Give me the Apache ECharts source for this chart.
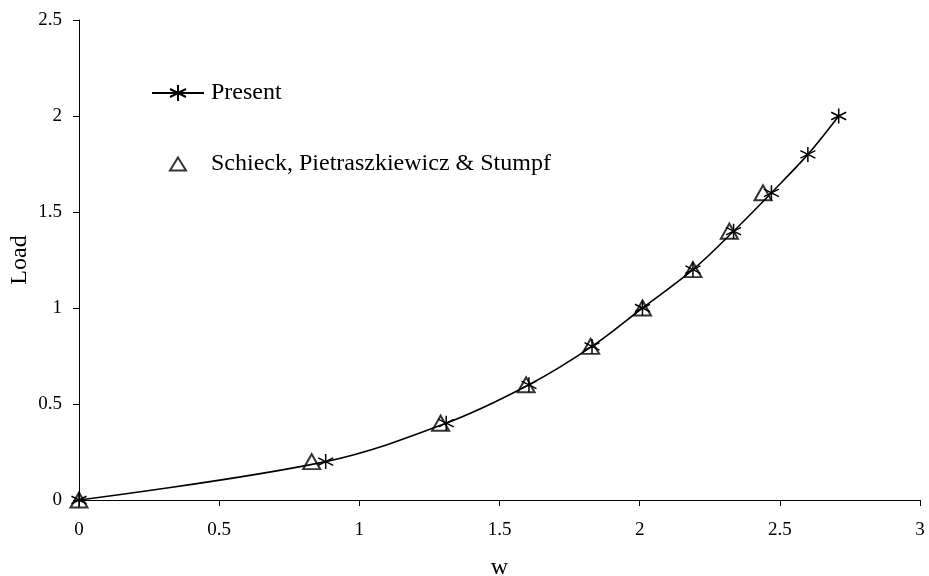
<!DOCTYPE html>
<html><head><meta charset="utf-8">
<script src="https://cdn.jsdelivr.net/npm/echarts@6/dist/echarts.min.js"></script>
<style>html,body{margin:0;padding:0;background:#fff}#c{width:929px;height:576px}</style>
</head><body><div id="c"></div>
<script>
const presentW = [0, 0.88, 1.31, 1.605, 1.83, 2.01, 2.19, 2.335, 2.47, 2.6, 2.71];
const presentLoad = [0, 0.2, 0.4, 0.6, 0.8, 1.0, 1.2, 1.4, 1.6, 1.8, 2.0];
const schieckW = [0, 0.83, 1.29, 1.595, 1.825, 2.01, 2.19, 2.32, 2.44];
const schieckLoad = [0, 0.2, 0.4, 0.6, 0.8, 1.0, 1.2, 1.4, 1.6];
const seriesNames = ['Present', 'Schieck, Pietraszkiewicz & Stumpf'];

const font = 'Liberation Serif, Times New Roman, serif';
const starPath = 'path://M0,-10 L0,10 M-8.66,-5 L8.66,5 M-8.66,5 L8.66,-5';
const pair = (xs, ys) => xs.map((x, i) => [x, ys[i]]);

const chart = echarts.init(document.getElementById('c'));
chart.setOption({
  animation: false,
  backgroundColor: '#fff',
  grid: { left: 79, right: 9, top: 20, bottom: 76, containLabel: false, outerBoundsMode: 'none' },
  legend: [
    {
      orient: 'vertical', left: 151, top: 81, padding: 0,
      itemWidth: 52, itemHeight: 20,
      textStyle: { fontFamily: font, fontSize: 24, color: '#000', padding: [0, 0, 0, 2] },
      data: [seriesNames[0]]
    },
    {
      orient: 'vertical', left: 169, top: 152, padding: 0,
      itemWidth: 16, itemHeight: 13,
      textStyle: { fontFamily: font, fontSize: 24, color: '#000', padding: [0, 0, 0, 20] },
      data: [seriesNames[1]]
    }
  ],
  xAxis: {
    type: 'value', min: 0, max: 3, interval: 0.5,
    name: 'w', nameLocation: 'middle', nameGap: 56,
    nameTextStyle: { fontFamily: font, fontSize: 24, color: '#000' },
    axisLine: { lineStyle: { color: '#000', width: 1 } },
    axisTick: { show: true, length: 6, lineStyle: { color: '#000' } },
    axisLabel: { fontFamily: font, fontSize: 19, color: '#000', margin: 21 },
    splitLine: { show: false }
  },
  yAxis: {
    type: 'value', min: 0, max: 2.5, interval: 0.5,
    name: 'Load', nameLocation: 'middle', nameGap: 47, nameRotate: 90,
    nameMoveOverlap: false,
    nameTextStyle: { fontFamily: font, fontSize: 24, color: '#000' },
    axisLine: { show: true, lineStyle: { color: '#000', width: 1 } },
    axisTick: { show: true, length: 6, lineStyle: { color: '#000' } },
    axisLabel: { fontFamily: font, fontSize: 19, color: '#000', margin: 17 },
    splitLine: { show: false }
  },
  series: [
    {
      name: seriesNames[0], type: 'line', smooth: 0.35, clip: false,
      data: pair(presentW, presentLoad),
      symbol: starPath, symbolSize: 15,
      lineStyle: { color: '#000', width: 1.6 },
      itemStyle: { color: 'rgba(0,0,0,0)', borderColor: '#000', borderWidth: 1.5 },
      z: 3
    },
    {
      name: seriesNames[1], type: 'scatter', clip: false,
      data: pair(schieckW, schieckLoad),
      symbol: 'triangle', symbolSize: [17, 15],
      itemStyle: { color: 'rgba(0,0,0,0)', borderColor: '#000', borderWidth: 2 },
      z: 2
    }
  ]
});
</script></body></html>
